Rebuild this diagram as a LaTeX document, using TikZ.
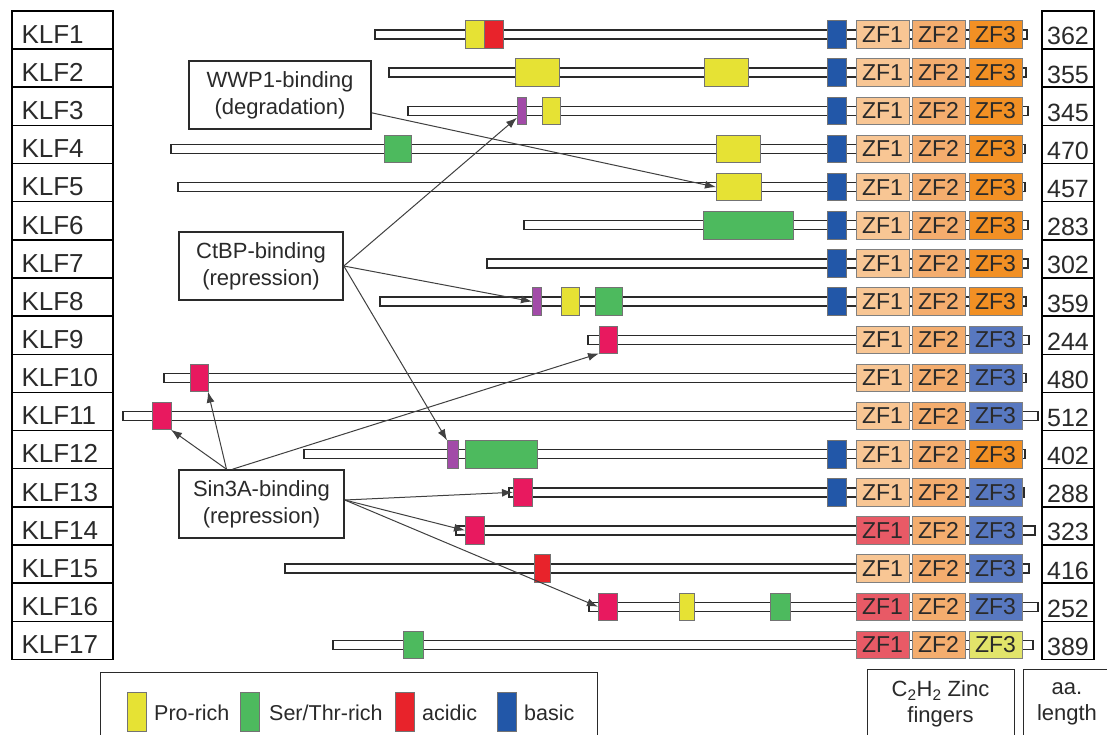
\documentclass[tikz,border=0pt]{standalone}
\usepackage{fontspec}
\setmainfont{Liberation Sans}
\usetikzlibrary{arrows.meta,calc}

% domain colours
\definecolor{cPro}{HTML}{E6E234}
\definecolor{cSer}{HTML}{4DBA5E}
\definecolor{cAcid}{HTML}{E8232B}
\definecolor{cBasic}{HTML}{2257A8}
\definecolor{cSin}{HTML}{E8195F}
\definecolor{cCtbp}{HTML}{A24BA8}
% zinc finger colours
\definecolor{cZa}{HTML}{F8C694}
\definecolor{cZb}{HTML}{F4AD6E}
\definecolor{cZc}{HTML}{F29024}
\definecolor{cZblue}{HTML}{5878C0}
\definecolor{cZred}{HTML}{E85A66}
\definecolor{cZyel}{HTML}{E2E46A}
\definecolor{ink}{HTML}{2A2A2A}

\tikzset{
  barbox/.style={draw=ink, line width=1.4pt, fill=white, minimum height=9pt, inner sep=0pt, outer sep=0pt},
  dombox/.style={draw=black!55, line width=0.8pt, minimum height=27.6pt, inner sep=0pt, outer sep=0pt},
  zfbox/.style={draw=black!50, line width=0.8pt, minimum width=53pt, minimum height=27.6pt, inner sep=0pt,
    font=\fontsize{23}{23}\selectfont, text=ink},
  labbox/.style={draw=black, line width=1.5pt, minimum width=101pt, minimum height=38.15pt, inner ysep=0pt,
    inner xsep=9.5pt, text width=82pt, align=left, text height=26.5pt, text depth=0pt,
    font=\fontsize{26}{26}\selectfont, text=ink},
  lenbox/.style={draw=black, line width=1.5pt, minimum width=52pt, minimum height=38.15pt, inner sep=0pt,
    text height=30pt, text depth=0pt, font=\fontsize{25}{25}\selectfont, text=ink},
  annot/.style={draw=ink, line width=1.6pt, align=center, inner sep=0pt, text=ink,
    font=\fontsize{22}{27}\selectfont},
  legsq/.style={draw=black!55, line width=0.8pt, minimum width=19pt, minimum height=39pt, inner sep=0pt},
  legtxt/.style={anchor=base west, inner sep=0pt, text=ink, font=\fontsize{21.5}{21.5}\selectfont},
  link/.style={draw=black!75, line width=1pt, -{Latex[length=11pt,width=8pt]}}
}

% protein backbone of one row: row, first x, last x
\newcommand\protbar[3]{\pgfmathsetmacro\ry{34.5+38.15*(#1-1)}%
  \node[barbox,minimum width={#3-#2}] (bar#1) at ({(#2+#3)/2},\ry) {};}
% one domain: name, colour, left x, right x, row
\newcommand\dom[5]{\pgfmathsetmacro\ry{34.5+38.15*(#5-1)}%
  \node[dombox,fill=#2,minimum width={#4-#3}] (#1) at ({(#3+#4)/2},\ry) {};}
% three zinc fingers: row, ZF1 colour, ZF3 colour
\newcommand\zfrow[3]{\pgfmathsetmacro\ry{34.5+38.15*(#1-1)}%
  \node[zfbox,fill=#2] (zfa#1) at (882.5,\ry) {ZF1};
  \node[zfbox,fill=cZb] (zfb#1) at (938.5,\ry) {ZF2};
  \node[zfbox,fill=#3] (zfc#1) at (995.5,\ry) {ZF3};}
% name and length boxes: row, length
\newcommand\labrow[2]{\pgfmathsetmacro\ly{30+38.15*(#1-1)}%
  \node[labbox] (klf#1) at (62.5,\ly) {KLF#1};
  \node[lenbox] (len#1) at (1068,\ly) {#2};}

\begin{document}
\begin{tikzpicture}[x=1pt,y=-1pt]
\useasboundingbox (0,0) rectangle (1107,735);
\clip (0,0) rectangle (1107,735);
\fill[white] (0,0) rectangle (1107,735);

% name and length columns
\labrow{1}{362}\labrow{2}{355}\labrow{3}{345}\labrow{4}{470}\labrow{5}{457}
\labrow{6}{283}\labrow{7}{302}\labrow{8}{359}\labrow{9}{244}\labrow{10}{480}
\labrow{11}{512}\labrow{12}{402}\labrow{13}{288}\labrow{14}{323}\labrow{15}{416}
\labrow{16}{252}\labrow{17}{389}

% KLF1
\protbar{1}{375}{1027}
\dom{k1a}{cPro}{465}{484}{1}\dom{k1b}{cAcid}{484}{503}{1}\dom{k1c}{cBasic}{827}{846}{1}
\zfrow{1}{cZa}{cZc}
% KLF2
\protbar{2}{389}{1026}
\dom{k2a}{cPro}{515}{559}{2}\dom{k2b}{cPro}{704}{748}{2}\dom{k2c}{cBasic}{827}{846}{2}
\zfrow{2}{cZa}{cZc}
% KLF3
\protbar{3}{408}{1028}
\dom{k3p}{cCtbp}{517}{526}{3}\dom{k3a}{cPro}{542}{560}{3}\dom{k3c}{cBasic}{827}{846}{3}
\zfrow{3}{cZa}{cZc}
% KLF4
\protbar{4}{171}{1025}
\dom{k4a}{cSer}{384}{411}{4}\dom{k4b}{cPro}{716}{760}{4}\dom{k4c}{cBasic}{827}{846}{4}
\zfrow{4}{cZa}{cZc}
% KLF5
\protbar{5}{178}{1025}
\dom{k5a}{cPro}{716}{761}{5}\dom{k5c}{cBasic}{827}{846}{5}
\zfrow{5}{cZa}{cZc}
% KLF6
\protbar{6}{524}{1028}
\dom{k6a}{cSer}{703}{793}{6}\dom{k6c}{cBasic}{827}{846}{6}
\zfrow{6}{cZa}{cZc}
% KLF7
\protbar{7}{487}{1028}
\dom{k7c}{cBasic}{827}{846}{7}
\zfrow{7}{cZa}{cZc}
% KLF8
\protbar{8}{380}{1026}
\dom{k8p}{cCtbp}{532}{541}{8}\dom{k8a}{cPro}{561}{579}{8}\dom{k8b}{cSer}{595}{622}{8}
\dom{k8c}{cBasic}{827}{846}{8}
\zfrow{8}{cZa}{cZc}
% KLF9
\protbar{9}{588}{1029}
\dom{k9s}{cSin}{599}{617}{9}
\zfrow{9}{cZa}{cZblue}
% KLF10
\protbar{10}{164}{1026}
\dom{k10s}{cSin}{190}{208}{10}
\zfrow{10}{cZa}{cZblue}
% KLF11
\protbar{11}{123}{1038}
\dom{k11s}{cSin}{152}{171}{11}
\zfrow{11}{cZa}{cZblue}
% KLF12
\protbar{12}{304}{1025}
\dom{k12p}{cCtbp}{447}{458}{12}\dom{k12a}{cSer}{465}{537}{12}\dom{k12c}{cBasic}{827}{846}{12}
\zfrow{12}{cZa}{cZc}
% KLF13
\protbar{13}{509}{1024}
\dom{k13s}{cSin}{513}{532}{13}\dom{k13c}{cBasic}{827}{846}{13}
\zfrow{13}{cZa}{cZblue}
% KLF14
\protbar{14}{456}{1035}
\dom{k14s}{cSin}{465}{484}{14}
\zfrow{14}{cZred}{cZblue}
% KLF15
\protbar{15}{285}{1029}
\dom{k15a}{cAcid}{534}{550}{15}
\zfrow{15}{cZa}{cZblue}
% KLF16
\protbar{16}{589}{1038}
\dom{k16s}{cSin}{598}{617}{16}\dom{k16a}{cPro}{679}{694}{16}\dom{k16b}{cSer}{770}{790}{16}
\zfrow{16}{cZred}{cZblue}
% KLF17
\protbar{17}{333}{1033}
\dom{k17a}{cSer}{403}{423}{17}
\zfrow{17}{cZred}{cZyel}

% interaction boxes
\node[annot, minimum width=182pt, minimum height=68pt] (wwp) at (280,95) {WWP1-binding\\(degradation)};
\node[annot, minimum width=164pt, minimum height=68pt] (ctbp) at (261,266) {CtBP-binding\\(repression)};
\node[annot, minimum width=165pt, minimum height=68pt] (sin) at (261.5,504) {Sin3A-binding\\(repression)};

% interaction arrows
\draw[link] (wwp.-11) -- (k5a.west);
\draw[link] (ctbp.east) -- ($(k3p.west)!0.5!(k3p.south west)$);
\draw[link] (ctbp.east) -- (k8p.west);
\draw[link] (ctbp.east) -- (k12p.north west);
\draw[link] ($(sin.north)+(-35,0)$) -- (k11s.south east);
\draw[link] ($(sin.north)+(-35,0)$) -- (k10s.south east);
\draw[link] ($(sin.north)+(-29,0)$) -- (k9s.south west);
\draw[link] ($(sin.east)+(0,-4)$) -- (k13s.west);
\draw[link] ($(sin.east)+(0,-4)$) -- (k14s.west);
\draw[link] ($(sin.east)+(0,-4)$) -- (k16s.west);

% legend
\node[draw=ink, line width=1.4pt, minimum width=497pt, minimum height=80pt, inner sep=0pt, anchor=north west] (legend) at (100,672) {};
\node[legsq, fill=cPro] (lgPro) at (136.5,711.5) {};
\node[legtxt] (lgProT) at (154,720) {Pro-rich};
\node[legsq, fill=cSer] (lgSer) at (250,711.5) {};
\node[legtxt] (lgSerT) at (269,720) {Ser/Thr-rich};
\node[legsq, fill=cAcid] (lgAcid) at (404.5,711.5) {};
\node[legtxt] (lgAcidT) at (422,720) {acidic};
\node[legsq, fill=cBasic] (lgBasic) at (506.5,711.5) {};
\node[legtxt] (lgBasicT) at (524,720) {basic};

% column captions
\node[draw=ink, line width=1.4pt, minimum width=147pt, minimum height=80pt, inner sep=0pt, anchor=north west] (zfcap) at (867,669) {};
\node[align=center, inner sep=0pt, text=ink, font=\fontsize{22}{26}\selectfont] (zfcapT) at (940.5,704) {C\textsubscript{2}H\textsubscript{2} Zinc\\fingers};
\node[draw=ink, line width=1.4pt, minimum width=100pt, minimum height=80pt, inner sep=0pt, anchor=north west] (aacap) at (1023,669) {};
\node[align=center, inner sep=0pt, text=ink, font=\fontsize{22}{26}\selectfont] (aacapT) at (1067,704) {aa.\\length};
\end{tikzpicture}
\end{document}
